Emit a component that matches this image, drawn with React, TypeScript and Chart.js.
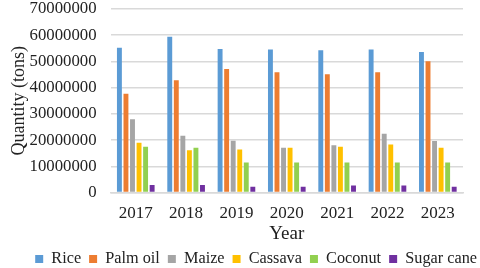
import React, { useEffect, useRef } from "react";
import { Chart, registerables } from "chart.js";

Chart.register(...registerables);

const years = ["2017", "2018", "2019", "2020", "2021", "2022", "2023"];
const rice = [55200000, 59400000, 54700000, 54600000, 54300000, 54600000, 53600000];
const palmOil = [37700000, 42800000, 47100000, 45900000, 45100000, 45900000, 50100000];
const maize = [28000000, 21700000, 19800000, 17100000, 18000000, 22400000, 19700000];
const cassava = [19000000, 16100000, 16400000, 17100000, 17500000, 18300000, 17100000];
const coconut = [17500000, 17100000, 11500000, 11500000, 11500000, 11500000, 11500000];
const sugarCane = [2900000, 2900000, 2200000, 2200000, 2700000, 2700000, 2200000];
const yMax = 70000000;
const yStep = 10000000;

const FONT = "'Liberation Serif', 'Times New Roman', serif";
const TXT = "#222";

export default function App() {
  const ref = useRef<HTMLCanvasElement | null>(null);
  useEffect(() => {
    if (!ref.current) return;
    const mk = (label: string, data: number[], color: string) => ({
      label,
      data,
      backgroundColor: color,
      borderWidth: 0,
      categoryPercentage: 0.78,
      barPercentage: 0.75,
      yAxisID: "y",
    });
    const chart = new Chart(ref.current, {
      type: "bar",
      data: {
        labels: years,
        datasets: [
          mk("Rice", rice, "#5B9BD5"),
          mk("Palm oil", palmOil, "#ED7D31"),
          mk("Maize", maize, "#A5A5A5"),
          mk("Cassava", cassava, "#FFC000"),
          mk("Coconut", coconut, "#92D050"),
          mk("Sugar cane", sugarCane, "#7030A0"),
        ],
      },
      options: {
        animation: false,
        responsive: false,
        maintainAspectRatio: false,
        layout: { padding: { left: 8, right: -5, top: 0, bottom: -9 } },
        plugins: {
          tooltip: { enabled: false },
          legend: {
            position: "bottom",
            align: "end",
            labels: {
              font: { family: FONT, size: 16.25 },
              color: TXT,
              boxWidth: 8,
              boxHeight: 8,
              padding: 8,
            },
          },
        },
        scales: {
          x: {
            grid: { display: false, drawTicks: false },
            border: { display: true, color: "#d9d9d9", width: 1.5 },
            ticks: { font: { family: FONT, size: 17 }, color: TXT, padding: 11 },
            title: {
              display: true,
              text: "Year",
              font: { family: FONT, size: 19 },
              color: TXT,
              padding: { top: -12, bottom: -3 },
            },
          },
          y: {
            min: 0,
            max: yMax,
            grid: { color: "#d9d9d9", lineWidth: 1.5, drawTicks: false },
            border: { display: false },
            ticks: {
              stepSize: yStep,
              autoSkip: false,
              font: { family: FONT, size: 16.75 },
              color: TXT,
              padding: 14,
              callback: (v: any) => String(v),
            },
            title: {
              display: true,
              text: "Quantity (tons)",
              font: { family: FONT, size: 18 },
              color: TXT,
              padding: { top: 0, bottom: -14 },
            },
            afterFit: (axis: any) => {
              axis.paddingTop = 9;
            },
          },
          y2: {
            position: "right",
            display: true,
            grid: { display: false, drawTicks: false },
            border: { display: false },
            ticks: { display: false },
            afterFit: (axis: any) => {
              axis.width = 22;
              axis.paddingTop = 0;
            },
          },
        },
      },
    });
    return () => chart.destroy();
  }, []);
  return (
    <div style={{ position: "absolute", left: 0, top: 0, width: 480, height: 268, background: "#fff" }}>
      <canvas ref={ref} width={480} height={268} style={{ width: 480, height: 268 }} />
    </div>
  );
}
